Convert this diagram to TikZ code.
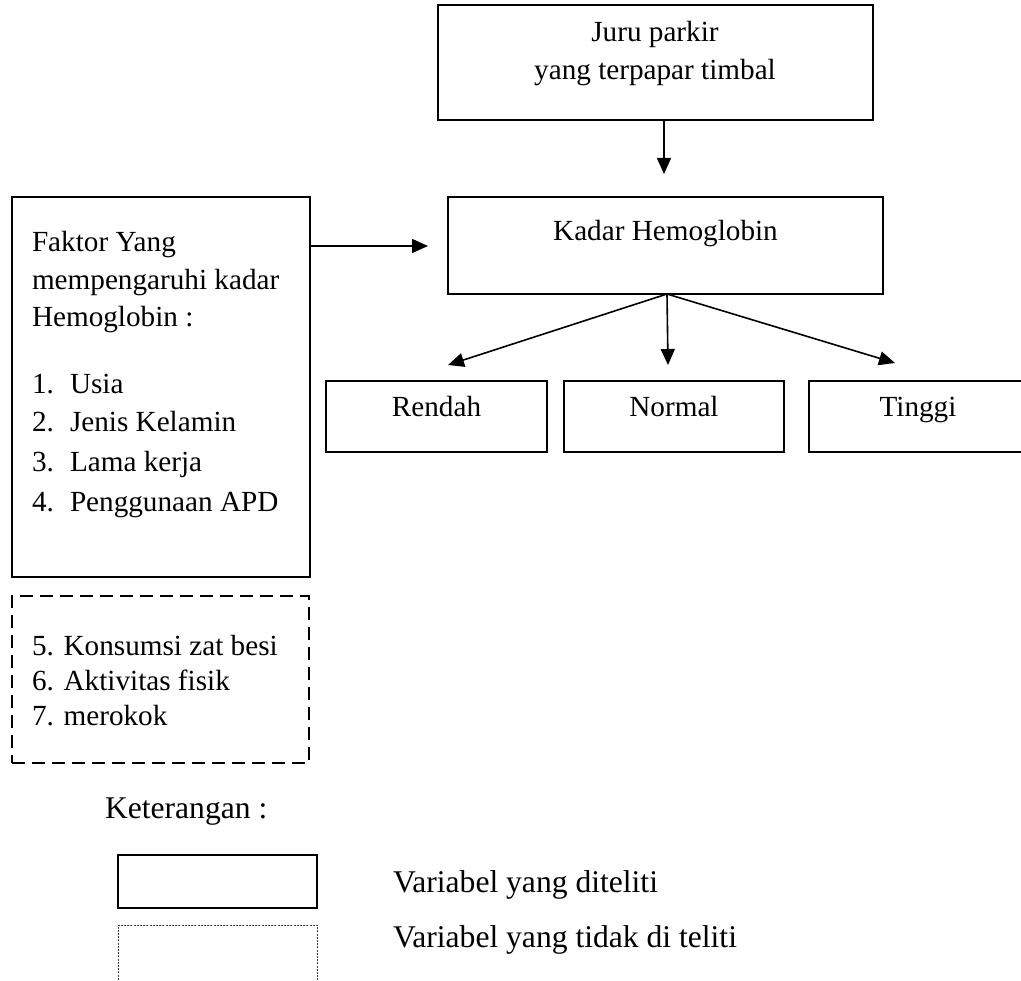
\documentclass[tikz,border=0pt]{standalone}
\usepackage{fontspec}
\setmainfont{Liberation Serif}
\usetikzlibrary{arrows.meta,calc}
\begin{document}
\begin{tikzpicture}[x=1pt,y=-1pt,
  box/.style={draw, line width=1.1pt, inner sep=0pt, outer sep=0pt},
  dashbox/.style={draw, line width=2.8pt, dash pattern=on 13pt off 7pt, inner sep=0pt, outer sep=0pt},
  dotbox/.style={draw, black!75, line width=0.9pt, dash pattern=on 2pt off 1.2pt, inner sep=0pt, outer sep=0pt},
  txt/.style={inner sep=0pt, outer sep=0pt, font=\fontsize{29.2}{35}\selectfont},
  ltxt/.style={inner sep=0pt, outer sep=0pt, font=\fontsize{31.6}{38}\selectfont},
  arr/.style={line width=1.6pt, -{Triangle[length=16pt,width=14pt]}}]
\useasboundingbox (0,0) rectangle (1021,981);

% boxes
\node[box, minimum width=435pt, minimum height=115pt] (juru) at (655.5,62.5) {};
\node[box, minimum width=435pt, minimum height=97pt] (kadar) at (665.5,245.5) {};
\node[box, minimum width=298pt, minimum height=380pt] (faktor) at (161,387) {};
\node[box, minimum width=221pt, minimum height=71pt] (rendah) at (436.5,416.5) {};
\node[box, minimum width=220pt, minimum height=71pt] (normal) at (674,416.5) {};
\node[box, minimum width=220pt, minimum height=71pt] (tinggi) at (919,416.5) {};
\node[dashbox, minimum width=297pt, minimum height=167pt] (lain) at (160.5,679.5) {};
\node[box, minimum width=199pt, minimum height=53pt] (lgsolid) at (217.5,881.5) {};
\node[dotbox, minimum width=199pt, minimum height=90pt] (lgdot) at (217.5,970) {};

% texts
\node[txt, anchor=base] (t1) at (655,42) {Juru parkir};
\node[txt, anchor=base] (t2) at (655,80) {yang terpapar timbal};
\node[txt, anchor=base] (t3) at (665.5,241) {Kadar Hemoglobin};
\node[txt, anchor=base] (t4) at (rendah.center |- 0,417) {Rendah};
\node[txt, anchor=base] (t5) at (normal.center |- 0,417) {Normal};
\node[txt, anchor=base] (t6) at (918,417) {Tinggi};

\node[txt, anchor=base west] (f1) at (32,252) {Faktor Yang};
\node[txt, anchor=base west] (f2) at (32,290) {mempengaruhi kadar};
\node[txt, anchor=base west] (f3) at (32,327) {Hemoglobin :};
\node[txt, anchor=base west] (n1) at (32,394) {1.};
\node[txt, anchor=base west] (l1) at (70,394) {Usia};
\node[txt, anchor=base west] (n2) at (32,432) {2.};
\node[txt, anchor=base west] (l2) at (70,432) {Jenis Kelamin};
\node[txt, anchor=base west] (n3) at (32,472) {3.};
\node[txt, anchor=base west] (l3) at (70,472) {Lama kerja};
\node[txt, anchor=base west] (n4) at (32,512) {4.};
\node[txt, anchor=base west] (l4) at (70,512) {Penggunaan APD};

\node[txt, anchor=base west] (d1) at (32,655) {5. Konsumsi zat besi};
\node[txt, anchor=base west] (d2) at (32,690) {6. Aktivitas fisik};
\node[txt, anchor=base west] (d3) at (32,725) {7. merokok};

\node[ltxt, anchor=base west] (ket) at (105,818) {Keterangan :};
\node[ltxt, anchor=base west] (v1) at (393,892) {Variabel yang diteliti};
\node[ltxt, anchor=base west] (v2) at (393,947) {Variabel yang tidak di teliti};

% connectors
\draw[arr, shorten >=23pt] (juru.south -| 664,0) -- (kadar.north -| 664,0);
\draw[arr, shorten >=20pt] (faktor.east |- 0,246) -- (kadar.west |- 0,246);
\draw[arr] ($(kadar.south)+(1.5,0)$) -- ($(rendah.north)+(11.5,-16)$);
\draw[arr] ($(kadar.south)+(1.5,0)$) -- ($(normal.north)+(-6,-16)$);
\draw[arr] ($(kadar.south)+(1.5,0)$) -- ($(tinggi.north)+(-24,-18)$);
\end{tikzpicture}
\end{document}
